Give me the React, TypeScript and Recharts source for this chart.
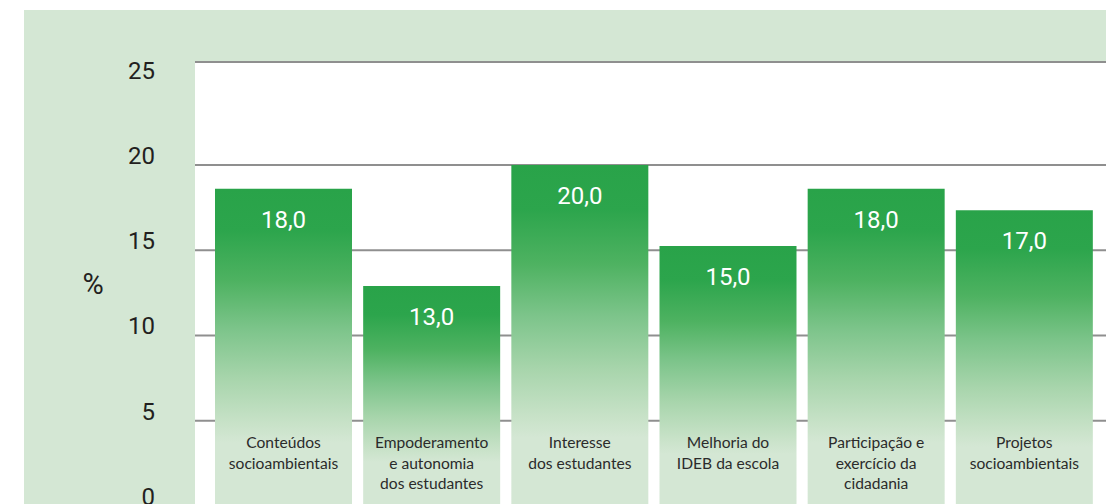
import React from "react";
import { BarChart, Bar, XAxis, YAxis, CartesianGrid, LabelList } from "recharts";

// Categories (line breaks as in the original)
const categories = [
  "Conteúdos\nsocioambientais",
  "Empoderamento\ne autonomia\ndos estudantes",
  "Interesse\ndos estudantes",
  "Melhoria do\nIDEB da escola",
  "Participação e\nexercício da\ncidadania",
  "Projetos\nsocioambientais",
];
// Bar heights as drawn in the picture (%)
const values = [18.6, 12.9, 20, 15.25, 18.6, 17.35];
// Printed value labels
const valueLabels = ["18,0", "13,0", "20,0", "15,0", "18,0", "17,0"];
const yTicks = [0, 5, 10, 15, 20, 25];
const yMax = 26.04;
const gridValues = [5, 10, 15, 20, yMax];

const data = categories.map((name, i) => ({ name, value: values[i], label: valueLabels[i] }));

const BG = "#d4e7d4";

const ValueLabel = (props: any) => {
  const { x, y, width, index } = props;
  return (
    <text x={x + width / 2} y={y + 31} textAnchor="middle" dominantBaseline="central"
      fill="#fff" fontFamily="Roboto" fontSize={24}>
      {valueLabels[index]}
    </text>
  );
};

const CategoryLabel = (props: any) => {
  const { x, y, width, height, index } = props;
  const lines = categories[index].split("\n");
  const bottom = y + height;
  return (
    <text x={x + width / 2} textAnchor="middle" fill="#2b2b2b" fontFamily="Lato" fontSize={15.6}>
      {lines.map((l, k) => (
        <tspan key={k} x={x + width / 2} y={bottom - 64 + k * 20.7} dominantBaseline="central">{l}</tspan>
      ))}
    </text>
  );
};

const YTick = (props: any) => {
  const { y, payload } = props;
  return (
    <text x={155} y={y - 9} textAnchor="end" dominantBaseline="central"
      fill="#231f20" fontFamily="Roboto" fontSize={24}>
      {payload.value}
    </text>
  );
};

export default function App() {
  return (
    <div style={{ position: "absolute", left: 0, top: 0, width: 1106, height: 504, overflow: "hidden", background: "#fff" }}>
      <div style={{ position: "absolute", left: 24, top: 10, right: 0, bottom: 0, background: BG }} />
      <div style={{ position: "absolute", left: 0, top: 0 }}>
        <BarChart width={1106} height={506} data={data} margin={{ top: 62, right: 0, left: 0, bottom: 0 }}>
          <defs>
            <linearGradient id="barGrad" x1="0" y1="0" x2="0" y2="1">
              <stop offset="0" stopColor="#29a349" />
              <stop offset="0.13" stopColor="#2ca54c" />
              <stop offset="0.29" stopColor="#4eb261" />
              <stop offset="0.44" stopColor="#7cc48a" />
              <stop offset="0.6" stopColor="#a8d5ac" />
              <stop offset="0.74" stopColor="#c8e2c8" />
              <stop offset="0.8" stopColor={BG} />
              <stop offset="1" stopColor={BG} />
            </linearGradient>
          </defs>
          <XAxis dataKey="name" hide padding={{ left: 14, right: 8 }} />
          <YAxis yAxisId="grid" hide domain={[0, yMax]} ticks={gridValues} allowDataOverflow />
          <YAxis yAxisId="labels" width={195} domain={[0, yMax]} ticks={yTicks} axisLine={false} tickLine={false}
            tick={<YTick />} interval={0} allowDataOverflow
            label={{
              content: () => (
                <text x={93} y={284} textAnchor="middle" dominantBaseline="central" fill="#231f20"
                  fontFamily="Roboto" fontSize={29}>%</text>
              ),
            }} />
          <CartesianGrid yAxisId="grid" vertical={false} fill="#fff" fillOpacity={1} stroke="#8f8f8f" strokeWidth={2} />
          <Bar yAxisId="grid" dataKey="value" fill="url(#barGrad)" barSize={137} isAnimationActive={false}>
            <LabelList dataKey="label" content={<ValueLabel />} />
            <LabelList dataKey="name" content={<CategoryLabel />} />
          </Bar>
        </BarChart>
      </div>
    </div>
  );
}
